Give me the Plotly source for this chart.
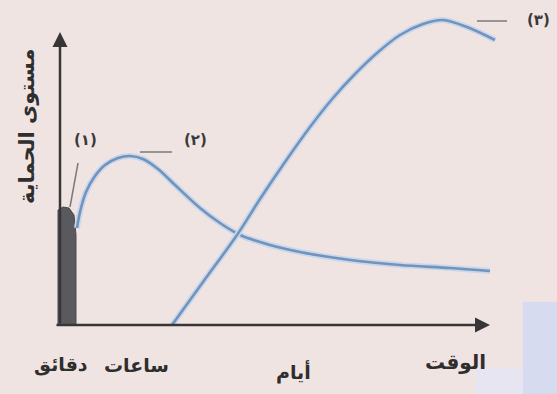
import plotly.graph_objects as go

# ---- data (arbitrary units) ----
curve1_x = [-2, -2, 3, 9, 14, 16, 16]
curve1_y = [0, 115, 118, 117, 110, 90, 0]

curve2_x = [17, 20, 26, 35, 45, 58, 70, 83, 98, 115, 140, 160, 180, 210, 240, 290, 340, 390, 430]
curve2_y = [97, 113, 133, 149, 160, 167, 169, 166, 156, 140, 117, 102, 90, 80, 73, 65, 60, 57, 54]

curve3_x = [112, 143, 177, 200, 225, 250, 273, 295, 317, 340, 363, 383, 407, 435]
curve3_y = [0, 43, 90, 126, 163, 198, 227, 251, 272, 290, 301, 305, 298, 285]

curve_labels = ["(١)", "(٢)", "(٣)"]
label_x = [25, 135, 478]
label_y = [185, 185, 305]
leader_x0 = [10, 80, 417]
leader_y0 = [118, 173, 304]
leader_x1 = [18, 112, 447]
leader_y1 = [162, 173, 304]

tick_labels = ["دقائق", "ساعات", "أيام"]
tick_x = [1, 76, 233]
tick_y = [-40, -40, -47]

x_title = "الوقت"
y_title = "مستوى الحماية"

X_RANGE = [-5, 490]
Y_RANGE = [0, 310]

bg = "#f0e4e3"
axis_col = "#363636"
curve_col = "#7193bd"
glow_col = "#c9d7ea"
font = "DejaVu Sans"


def px(x):
    return (x - X_RANGE[0]) / (X_RANGE[1] - X_RANGE[0])


def py(y):
    return (y - Y_RANGE[0]) / (Y_RANGE[1] - Y_RANGE[0])


fig = go.Figure()

# scan artefact (blue patch bottom-right)
fig.add_shape(type="rect", xref="paper", yref="paper", x0=0.945, x1=1.1, y0=-0.3, y1=0.075,
              fillcolor="#d7dbef", line_width=0, layer="below")
fig.add_shape(type="rect", xref="paper", yref="paper", x0=0.85, x1=0.945, y0=-0.3, y1=-0.14,
              fillcolor="#e7e5f1", line_width=0, layer="below")

# curve (1): dark narrow spike
fig.add_trace(go.Scatter(x=curve1_x, y=curve1_y, mode="lines", fill="toself",
                         fillcolor="#5a5a5e", line=dict(color="#4a4a4a", width=1),
                         hoverinfo="skip"))

for cx, cy in [(curve2_x, curve2_y), (curve3_x, curve3_y)]:
    fig.add_trace(go.Scatter(x=cx, y=cy, mode="lines",
                             line=dict(color=glow_col, width=6, shape="spline", smoothing=0.9),
                             hoverinfo="skip"))
    fig.add_trace(go.Scatter(x=cx, y=cy, mode="lines",
                             line=dict(color=curve_col, width=2.6, shape="spline", smoothing=0.9),
                             hoverinfo="skip"))

# leader lines
for x0, y0, x1, y1 in zip(leader_x0, leader_y0, leader_x1, leader_y1):
    fig.add_shape(type="line", xref="x", yref="y", x0=x0, y0=y0, x1=x1, y1=y1,
                  line=dict(color="#7a7a7a", width=1.5))

annotations = []
# axes with arrowheads
annotations.append(dict(x=0, y=293, ax=0, ay=0, xref="x", yref="y", axref="x", ayref="y",
                        showarrow=True, arrowhead=2, arrowsize=1.2, arrowwidth=2.5,
                        arrowcolor=axis_col, text=""))
annotations.append(dict(x=430, y=0, ax=-5, ay=0, xref="x", yref="y", axref="x", ayref="y",
                        showarrow=True, arrowhead=2, arrowsize=1.2, arrowwidth=2.5,
                        arrowcolor=axis_col, text=""))

common = dict(xref="paper", yref="paper", showarrow=False, xanchor="center", yanchor="middle")

for t, x, y in zip(curve_labels, label_x, label_y):
    annotations.append(dict(x=px(x), y=py(y), text="<b>" + t + "</b>",
                            font=dict(family=font, size=15, color="#3a3a3a"), **common))

for t, x, y in zip(tick_labels, tick_x, tick_y):
    annotations.append(dict(x=px(x), y=py(y), text="<b>" + t + "</b>",
                            font=dict(family=font, size=19, color="#2e2e2e"), **common))

annotations.append(dict(x=px(395), y=py(-37), text="<b>" + x_title + "</b>",
                        font=dict(family=font, size=20, color="#2e2e2e"), **common))
annotations.append(dict(x=px(-33), y=py(198), text="<b>" + y_title + "</b>", textangle=-90,
                        font=dict(family=font, size=21, color="#2e2e2e"), **common))

fig.update_layout(
    width=557, height=394,
    margin=dict(l=55, r=7, t=15, b=69),
    paper_bgcolor=bg, plot_bgcolor=bg,
    showlegend=False,
    xaxis=dict(range=X_RANGE, visible=False),
    yaxis=dict(range=Y_RANGE, visible=False),
    annotations=annotations,
)

fig.write_html("out.html", config={"displayModeBar": False},
               post_script="document.body.style.margin='0';document.body.style.background='%s';" % bg)
